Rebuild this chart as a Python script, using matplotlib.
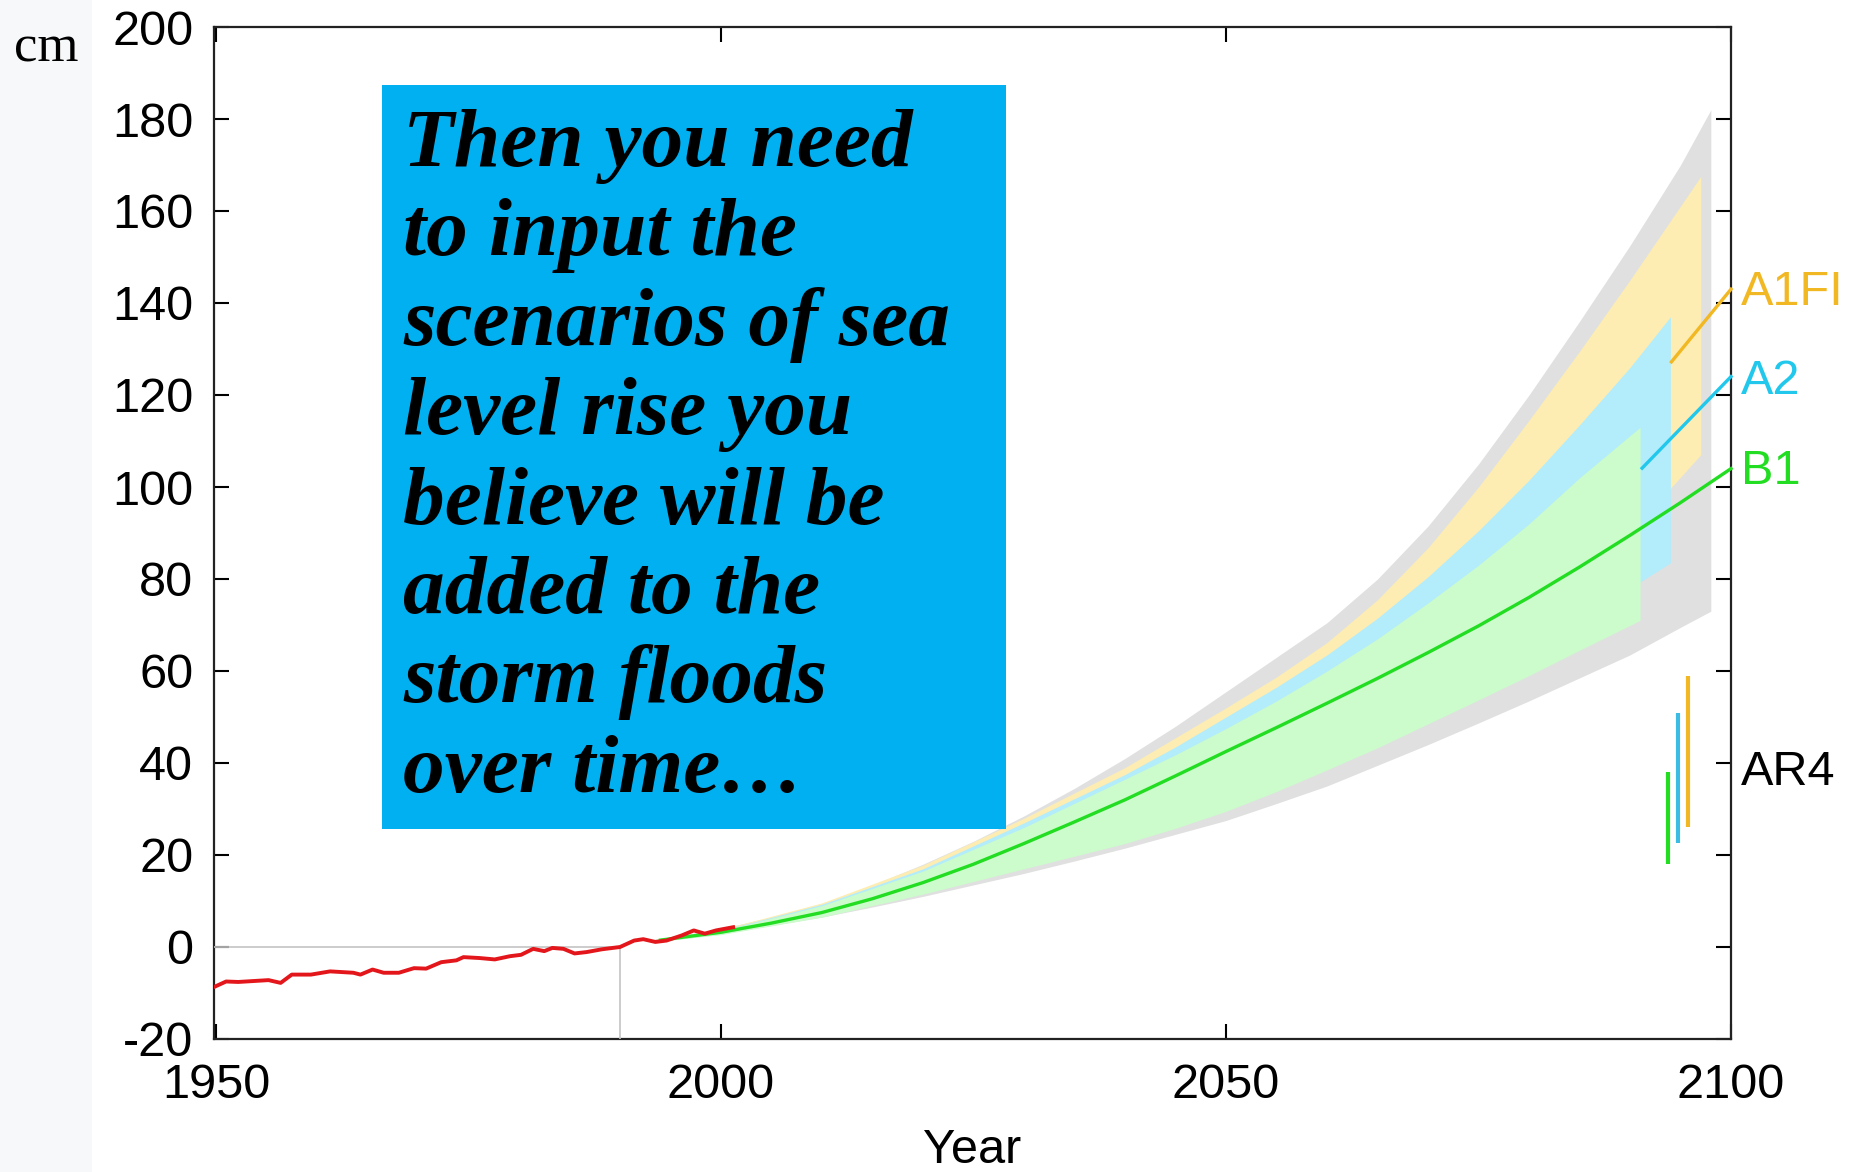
import matplotlib
matplotlib.use("Agg")
import matplotlib.pyplot as plt
from matplotlib.patches import Rectangle

plt.rcParams["axes.unicode_minus"] = False

# observed sea level (red)
obs_years = [1949.8, 1951.0, 1952.2, 1955.2, 1956.4, 1957.5, 1959.4, 1961.3, 1963.6, 1964.3,
             1965.5, 1966.6, 1968.1, 1969.6, 1970.8, 1972.3, 1973.8, 1974.5, 1976.1, 1977.6,
             1979.1, 1980.2, 1981.4, 1982.5, 1983.3, 1984.4, 1985.5, 1986.7, 1988.2, 1990.0,
             1991.4, 1992.3, 1993.5, 1994.6, 1996.1, 1997.3, 1998.4, 1999.5, 2001.2]
obs_cm = [-8.7, -7.5, -7.6, -7.2, -7.8, -6.0, -6.0, -5.3, -5.6, -6.0,
          -4.9, -5.6, -5.6, -4.6, -4.7, -3.3, -2.9, -2.2, -2.4, -2.7,
          -2.0, -1.7, -0.4, -0.9, -0.2, -0.4, -1.4, -1.1, -0.5, 0.0,
          1.4, 1.7, 1.1, 1.4, 2.5, 3.6, 2.9, 3.6, 4.3]

# full projection envelope (grey)
gray_years = [1993, 2000, 2005, 2010, 2015, 2020, 2025, 2030, 2035, 2040, 2045, 2050,
              2055, 2060, 2065, 2070, 2075, 2080, 2085, 2090, 2095, 2098]
gray_hi = [1.5, 4, 6.5, 9.5, 13.5, 18, 23, 28.5, 34.5, 41, 48, 55.5,
           63, 70.5, 80, 91.5, 105, 120, 136, 152.5, 170, 182]
gray_lo = [1.0, 3, 4.7, 6.5, 8.7, 11, 13.5, 16, 18.7, 21.5, 24.5, 27.5,
           31.2, 35, 39.5, 44, 48.7, 53.5, 58.5, 63.5, 69.5, 73]

# A1FI
a1fi_years = [1993, 2000, 2010, 2020, 2030, 2040, 2045, 2050, 2055, 2060, 2065, 2070,
              2075, 2080, 2085, 2090, 2097]
a1fi_hi = [1.5, 3.8, 9.6, 17.8, 28, 39, 45.5, 52, 58.7, 66.2, 75.5, 86.8,
           100, 114.5, 129.5, 145, 167.5]
a1fi_lo = [1.0, 2.9, 7, 12.5, 19, 25.5, 29.3, 33.5, 38.3, 43.5, 49.5, 56,
           62.8, 70, 79, 90, 107]

# A2
a2_years = [1993, 2000, 2010, 2020, 2030, 2040, 2045, 2050, 2055, 2060, 2065, 2070,
            2075, 2080, 2085, 2090, 2094]
a2_hi = [1.5, 3.6, 9.3, 17, 27, 37.5, 43.5, 50, 56.5, 63.5, 71.5, 80.5,
         90.5, 101.5, 113.5, 126, 137]
a2_lo = [1.0, 2.8, 6.8, 12, 18, 24, 27.6, 31.5, 36, 41, 46.3, 52,
         58, 64, 70.8, 78, 83.5]

# B1
b1_years = [1993, 2000, 2010, 2020, 2030, 2040, 2045, 2050, 2055, 2060, 2065, 2070,
            2075, 2080, 2085, 2091]
b1_hi = [1.5, 3.5, 9, 16.5, 26, 36.5, 41.8, 47.5, 53.5, 60, 67, 74.8,
         83, 92, 102, 113]
b1_lo = [1.0, 2.7, 6.5, 11.5, 17, 22.5, 25.8, 29.5, 33.8, 38.5, 43.3, 48.5,
         53.7, 59, 64.5, 71]

# B1 central line
mid_years = [1994, 2000, 2005, 2010, 2015, 2020, 2025, 2030, 2035, 2040, 2045, 2050,
             2055, 2060, 2065, 2070, 2075, 2080, 2085, 2090, 2095, 2100]
mid_cm = [1.5, 3.2, 5.2, 7.5, 10.5, 14, 18, 22.5, 27.2, 32, 37.2, 42.5,
          47.7, 53, 58.4, 64, 69.8, 76, 82.6, 89.5, 96.6, 104]

# connectors to the scenario labels
scenarios = ["A1FI", "A2", "B1"]
conn_start_year = [2094.1, 2091.2, 2100]
conn_start_cm = [127.2, 104.1, 104.0]
conn_end_cm = [143.0, 124.0, 104.0]
label_cm = [142.3, 123.0, 103.3]

# AR4 ranges
ar4_years = [2093.8, 2094.8, 2095.7]
ar4_lo = [18, 22.6, 26]
ar4_hi = [38, 50.8, 59]

GREEN = "#22dd22"
CYAN = "#22c8ec"
GOLD = "#f2b824"
scen_colors = [GOLD, CYAN, GREEN]
ar4_colors = [GREEN, "#3cbce2", GOLD]

box_lines = ["Then you need", "to input the", "scenarios of sea", "level rise you",
             "believe will be", "added to the", "storm floods", "over time\u2026"]

W, H = 1858, 1172
fig = plt.figure(figsize=(W / 100, H / 100), dpi=100)
fig.patch.set_facecolor("white")
fig.patches.append(Rectangle((0, 0), 92 / W, 1, transform=fig.transFigure,
                             facecolor="#f7f8f9", edgecolor="none", zorder=0))

ax = fig.add_axes([214 / W, 1 - 1039 / H, (1731 - 214) / W, (1039 - 27) / H])
ax.set_xlim(1949.8, 2100)
ax.set_ylim(-20, 200)

ax.fill_between(gray_years, gray_lo, gray_hi, color="#e0e0e0", lw=0, zorder=1)
ax.fill_between(a1fi_years, a1fi_lo, a1fi_hi, color="#fdedb3", lw=0, zorder=2)
ax.fill_between(a2_years, a2_lo, a2_hi, color="#b3ecfb", lw=0, zorder=3)
ax.fill_between(b1_years, b1_lo, b1_hi, color="#ccfbcc", lw=0, zorder=4)

# reference lines at 1990 / 0 cm
ax.plot([1949.8, 1990], [0, 0], color="#c4c4c4", lw=1.2, zorder=5)
ax.plot([1990, 1990], [-20, 0], color="#c4c4c4", lw=1.2, zorder=5)

ax.plot(mid_years, mid_cm, color=GREEN, lw=2.4, zorder=6, clip_on=False)
ax.plot(obs_years, obs_cm, color="#e3161b", lw=2.8, zorder=7)

for name, c, x0, y0, y1, ly in zip(scenarios, scen_colors, conn_start_year,
                                   conn_start_cm, conn_end_cm, label_cm):
    ax.plot([x0, 2100], [y0, y1], color=c, lw=2.4, zorder=6, clip_on=False)
    ax.annotate(name, xy=(1, ly), xycoords=("axes fraction", "data"),
                xytext=(7, 0), textcoords="offset points", va="center", ha="left",
                color=c, fontsize=35, family="Liberation Sans", annotation_clip=False)

for x, lo, hi, c in zip(ar4_years, ar4_lo, ar4_hi, ar4_colors):
    ax.plot([x, x], [lo, hi], color=c, lw=3, zorder=6, solid_capstyle="butt")
ax.annotate("AR4", xy=(1, 38), xycoords=("axes fraction", "data"),
            xytext=(7, 0), textcoords="offset points", va="center", ha="left",
            color="black", fontsize=35, family="Liberation Sans", annotation_clip=False)

ax.set_xticks([1950, 2000, 2050, 2100])
ax.set_yticks(range(-20, 201, 20))
ax.tick_params(direction="in", length=11, width=1.5, labelsize=35, color="black",
               top=True, right=True, labelright=False, labeltop=False)
ax.tick_params(axis="y", pad=15)
ax.tick_params(axis="x", pad=17)
for lab in ax.get_xticklabels() + ax.get_yticklabels():
    lab.set_family("Liberation Sans")
for s in ax.spines.values():
    s.set_linewidth(1.6)
    s.set_color("#222222")
ax.set_xlabel("Year", fontsize=35, family="Liberation Sans", labelpad=15)

fig.text(14 / W, 1 - 62 / H, "cm", fontsize=38, family="Liberation Serif",
         va="baseline", ha="left")

# overlay text box
ax.add_patch(Rectangle(((382 - 214) / 1517, (1039 - 829) / 1012),
                       (1006 - 382) / 1517, (829 - 85) / 1012, transform=ax.transAxes,
                       facecolor="#00b0f0", edgecolor="none", zorder=10))
for i, line in enumerate(box_lines):
    fig.text(403 / W, 1 - (166 + i * 89.4) / H, line, fontsize=60,
             family="Liberation Serif", weight="bold", style="italic",
             va="baseline", ha="left", color="black", zorder=11)

fig.savefig("out.png", dpi=100)
